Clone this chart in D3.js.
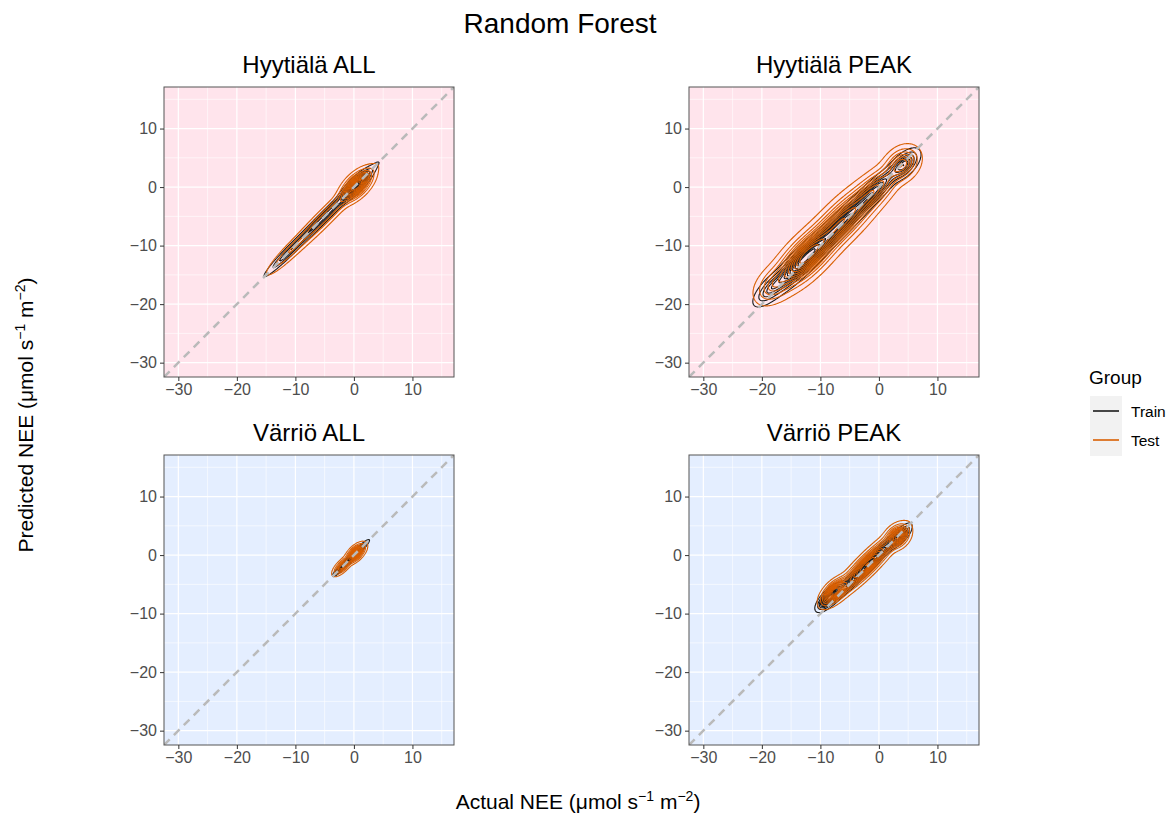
<!DOCTYPE html>
<html>
<head>
<meta charset="utf-8">
<script src="https://cdn.jsdelivr.net/npm/d3@7"></script>
<style>
body { margin:0; background:#fff; }
text { font-family:"Liberation Sans", Arial, Helvetica, sans-serif; }
</style>
</head>
<body>
<div id="plot"></div>
<script>
var W = 1170, H = 815;

// panels, in reading order
var panelTitles = ['Hyytiälä ALL', 'Hyytiälä PEAK', 'Värriö ALL', 'Värriö PEAK'];
var panelFills = ['#FFE4EC', '#FFE4EC', '#E4EEFF', '#E4EEFF'];
var groups = ['Train', 'Test'];
var groupColors = ['#1a1a1a', '#D95F02'];

var axisDomain = [-32.45, 17.1];
var majorTicks = [-30, -20, -10, 0, 10];
var minorTicks = [-25, -15, -5, 5, 15];

// contour levels, as a share of each group's peak density
var levels = [0.03, 0.1, 0.18, 0.26, 0.34, 0.42, 0.5, 0.58, 0.66, 0.74, 0.82, 0.9];

// density read off the picture as a few blobs along the 1:1 line
// [cx, cy, spread along the line, spread across it, weight]
var hyyAllTrain = [[0.3, 0.3, 1.2, 0.35, 1], [-5, -5, 4.2, 0.28, 0.35], [-11.5, -11.4, 1.8, 0.25, 0.18]];
var hyyAllTest  = [[0.5, 0.3, 1.2, 0.6, 1], [-5, -5.2, 4.0, 0.48, 0.27], [-11.5, -11.5, 1.8, 0.38, 0.12]];
var hyyPeakTrain = [[-12.8, -12.4, 2.6, 0.6, 1], [-6, -5.8, 3.0, 0.55, 0.7], [-0.5, -0.4, 2.0, 0.5, 0.45],
                    [4.3, 3.8, 1.1, 0.55, 0.5], [-18.4, -17.2, 1.4, 0.55, 0.25]];
var hyyPeakTest  = [[-12.5, -12, 2.6, 1.05, 1], [-6, -5.5, 3.0, 1.05, 0.75], [-0.5, -0.3, 2.0, 0.85, 0.45],
                    [3.9, 3.9, 1.2, 0.9, 0.5], [-18, -16.6, 1.4, 0.9, 0.25]];
var varAllTrain = [[0, 0, 1.0, 0.15, 1], [-2.5, -2.5, 0.5, 0.12, 0.4]];
var varAllTest  = [[0.3, 0.3, 0.7, 0.35, 1], [-2, -1.9, 0.7, 0.3, 0.5]];
var varPeakTrain = [[-8.4, -7.2, 0.9, 0.35, 1], [-2, -1.8, 2.6, 0.3, 0.85], [3.5, 3.1, 0.8, 0.3, 0.7]];
var varPeakTest  = [[-7.6, -6.2, 1.0, 0.5, 1], [-2, -1.6, 2.6, 0.55, 0.9], [3.2, 3.2, 0.8, 0.6, 0.8]];

var panelData = [
  [hyyAllTrain, hyyAllTest],
  [hyyPeakTrain, hyyPeakTest],
  [varAllTrain, varAllTest],
  [varPeakTrain, varPeakTest]
];

var panelLeft = [164, 689], panelTop = [87, 455], size = 290;

var svg = d3.select('#plot').append('svg')
    .attr('width', W).attr('height', H);

svg.append('text')
    .attr('x', 560).attr('y', 33)
    .attr('text-anchor', 'middle')
    .attr('font-size', 28).attr('fill', '#000')
    .text('Random Forest');

var x = d3.scaleLinear().domain(axisDomain).range([0, size]);
var y = d3.scaleLinear().domain(axisDomain).range([size, 0]);

// grid index -> data units
var n = size;
var gx = d3.scaleLinear().domain([0, n]).range(axisDomain);
var gy = d3.scaleLinear().domain([0, n]).range([axisDomain[1], axisDomain[0]]);

function density(comps) {
  var vals = new Float64Array(n * n);
  for (var j = 0; j < n; j++) {
    var yv = gy(j + 0.5);
    for (var i = 0; i < n; i++) {
      var xv = gx(i + 0.5), s = 0;
      for (var k = 0; k < comps.length; k++) {
        var c = comps[k];
        var dx = xv - c[0], dy = yv - c[1];
        var a = (dx + dy) / 2, b = (dy - dx) / 2;
        s += c[4] * Math.exp(-0.5 * (a * a / (c[2] * c[2]) + b * b / (c[3] * c[3])));
      }
      vals[j * n + i] = s;
    }
  }
  return vals;
}

var toPixels = d3.geoPath(d3.geoTransform({
  point: function(px, py) { this.stream.point(x(gx(px)), y(gy(py))); }
}));

panelTitles.forEach(function(title, p) {
  var left = panelLeft[p % 2], top = panelTop[Math.floor(p / 2)];
  var g = svg.append('g').attr('transform', 'translate(' + left + ',' + top + ')');

  g.append('clipPath').attr('id', 'clip' + p)
    .append('rect').attr('width', size).attr('height', size);

  g.append('rect').attr('width', size).attr('height', size)
    .attr('fill', panelFills[p]);

  // grid
  g.selectAll('.vminor').data(minorTicks).enter().append('line')
    .attr('x1', d => x(d)).attr('x2', d => x(d)).attr('y1', 0).attr('y2', size)
    .attr('stroke', '#fff').attr('stroke-width', 0.6);
  g.selectAll('.hminor').data(minorTicks).enter().append('line')
    .attr('y1', d => y(d)).attr('y2', d => y(d)).attr('x1', 0).attr('x2', size)
    .attr('stroke', '#fff').attr('stroke-width', 0.6);
  g.selectAll('.vmajor').data(majorTicks).enter().append('line')
    .attr('x1', d => x(d)).attr('x2', d => x(d)).attr('y1', 0).attr('y2', size)
    .attr('stroke', '#fff').attr('stroke-width', 1.2);
  g.selectAll('.hmajor').data(majorTicks).enter().append('line')
    .attr('y1', d => y(d)).attr('y2', d => y(d)).attr('x1', 0).attr('x2', size)
    .attr('stroke', '#fff').attr('stroke-width', 1.2);

  var inner = g.append('g').attr('clip-path', 'url(#clip' + p + ')');

  panelData[p].forEach(function(comps, gi) {
    var vals = density(comps);
    var peak = d3.max(vals);
    var contours = d3.contours().size([n, n])
      .thresholds(levels.map(l => l * peak))(vals);
    inner.selectAll('.c' + gi).data(contours).enter().append('path')
      .attr('d', toPixels)
      .attr('fill', 'none')
      .attr('stroke', groupColors[gi])
      .attr('stroke-width', 1.1);
  });

  // 1:1 line
  inner.append('line')
    .attr('x1', x(axisDomain[0])).attr('y1', y(axisDomain[0]))
    .attr('x2', x(axisDomain[1])).attr('y2', y(axisDomain[1]))
    .attr('stroke', '#bababa').attr('stroke-width', 2.5)
    .attr('stroke-dasharray', '8,6');

  g.append('rect').attr('width', size).attr('height', size)
    .attr('fill', 'none').attr('stroke', '#555').attr('stroke-width', 1);

  var xAxis = g.append('g').attr('transform', 'translate(0,' + size + ')')
    .call(d3.axisBottom(x).tickValues(majorTicks).tickSize(4).tickPadding(3));
  var yAxis = g.append('g')
    .call(d3.axisLeft(y).tickValues(majorTicks).tickSize(4).tickPadding(3));
  [xAxis, yAxis].forEach(function(ax) {
    ax.select('.domain').remove();
    ax.selectAll('line').attr('stroke', '#333');
    ax.selectAll('text').attr('font-size', 16).attr('fill', '#4d4d4d')
      .attr('font-family', '"Liberation Sans", Arial, sans-serif');
  });

  g.append('text')
    .attr('x', size / 2).attr('y', -14)
    .attr('text-anchor', 'middle').attr('font-size', 24).attr('fill', '#000')
    .text(title);
});

function unitLabel(t, lead) {
  t.append('tspan').text(lead + ' (μmol s');
  t.append('tspan').attr('dy', -8).attr('font-size', 14).text('−1');
  t.append('tspan').attr('dy', 8).text(' m');
  t.append('tspan').attr('dy', -8).attr('font-size', 14).text('−2');
  t.append('tspan').attr('dy', 8).text(')');
}

var xt = svg.append('text')
    .attr('x', 578).attr('y', 809)
    .attr('text-anchor', 'middle').attr('font-size', 21).attr('fill', '#000');
unitLabel(xt, 'Actual NEE');

var yt = svg.append('text')
    .attr('transform', 'translate(33,415) rotate(-90)')
    .attr('text-anchor', 'middle').attr('font-size', 21).attr('fill', '#000');
unitLabel(yt, 'Predicted NEE');

// legend
var legend = svg.append('g').attr('transform', 'translate(1089,0)');
legend.append('text').attr('x', 0).attr('y', 384)
    .attr('font-size', 19).attr('fill', '#000').text('Group');
legend.append('rect').attr('x', 1).attr('y', 396).attr('width', 32).attr('height', 60)
    .attr('fill', '#f2f2f2');
groups.forEach(function(name, i) {
  var yy = 411 + i * 29;
  legend.append('line').attr('x1', 4).attr('x2', 30).attr('y1', yy).attr('y2', yy)
      .attr('stroke', groupColors[i]).attr('stroke-width', 1.6);
  legend.append('text').attr('x', 42).attr('y', yy + 5.5)
      .attr('font-size', 15.5).attr('fill', '#000').text(name);
});
</script>
</body>
</html>
